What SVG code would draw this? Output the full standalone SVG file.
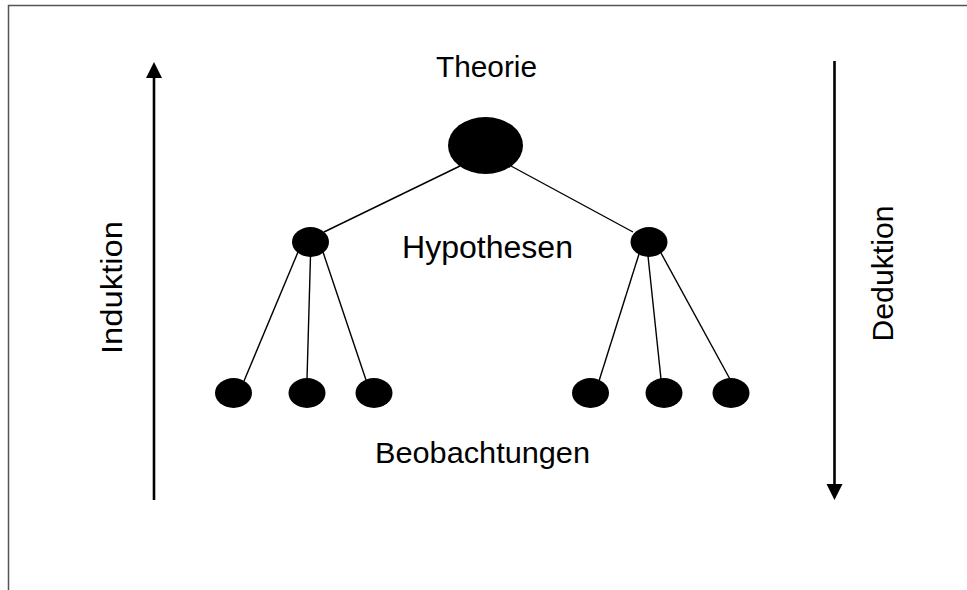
<svg xmlns="http://www.w3.org/2000/svg" width="967" height="590" viewBox="0 0 967 590">
<style>
.node{fill:#000}
.edge{stroke:#000;stroke-width:1.4;fill:none}
.axis{stroke:#000;stroke-width:2.6;fill:none}
.lbl{font-family:"Liberation Sans",Arial,sans-serif;fill:#000;text-anchor:middle}
.frame{stroke:#555;stroke-width:1.5;fill:none}
</style>
<rect width="967" height="590" fill="#fff"/>
<path class="frame" d="M8.5,590 V5.5 H967"/>
<g id="connectors">
<line class="edge" x1="460" y1="166" x2="324" y2="232"/>
<line class="edge" x1="511" y1="166" x2="633" y2="232"/>
<line class="edge" x1="298" y1="252" x2="244" y2="381"/>
<line class="edge" x1="310.5" y1="256" x2="307" y2="379"/>
<line class="edge" x1="323" y1="252" x2="366" y2="380"/>
<line class="edge" x1="639" y1="254" x2="599" y2="381"/>
<line class="edge" x1="648" y1="256" x2="661" y2="379"/>
<line class="edge" x1="661" y1="253" x2="731" y2="381"/>
<g id="induktion-arrow">
<line class="axis" x1="154" y1="75" x2="154" y2="500"/>
<polygon points="154,62 146,78 162,78" fill="#000"/>
</g>
<g id="deduktion-arrow">
<line class="axis" x1="834.5" y1="61" x2="834.5" y2="487"/>
<polygon points="834.5,500 826.5,484 842.5,484" fill="#000"/>
</g>
</g>
<g id="theorie">
<ellipse class="node" cx="485.5" cy="145.5" rx="37.5" ry="28.5"/>
<text class="lbl" x="486.5" y="77" font-size="29" textLength="101" lengthAdjust="spacingAndGlyphs">Theorie</text>
</g>
<g id="hypothese-links"><ellipse class="node" cx="310.5" cy="242" rx="18.5" ry="15"/></g>
<g id="hypothese-rechts"><ellipse class="node" cx="649" cy="242" rx="18.5" ry="15"/></g>
<g id="hypothesen-label"><text class="lbl" x="487.5" y="258" font-size="31" textLength="171" lengthAdjust="spacingAndGlyphs">Hypothesen</text></g>
<g id="beob-1"><ellipse class="node" cx="233.5" cy="393" rx="18.5" ry="15"/></g>
<g id="beob-2"><ellipse class="node" cx="307" cy="393" rx="18.5" ry="15"/></g>
<g id="beob-3"><ellipse class="node" cx="374" cy="393" rx="18.5" ry="15"/></g>
<g id="beob-4"><ellipse class="node" cx="590.5" cy="393" rx="18.5" ry="15"/></g>
<g id="beob-5"><ellipse class="node" cx="664" cy="393" rx="18.5" ry="15"/></g>
<g id="beob-6"><ellipse class="node" cx="731" cy="393" rx="18.5" ry="15"/></g>
<g id="beobachtungen-label"><text class="lbl" x="482.5" y="463" font-size="29" textLength="215" lengthAdjust="spacingAndGlyphs">Beobachtungen</text></g>
<g id="induktion-label"><text class="lbl" transform="translate(122,287.5) rotate(-90)" font-size="30" textLength="133" lengthAdjust="spacingAndGlyphs">Induktion</text></g>
<g id="deduktion-label"><text class="lbl" transform="translate(893,273.5) rotate(-90)" font-size="30" textLength="136" lengthAdjust="spacingAndGlyphs">Deduktion</text></g>
</svg>
